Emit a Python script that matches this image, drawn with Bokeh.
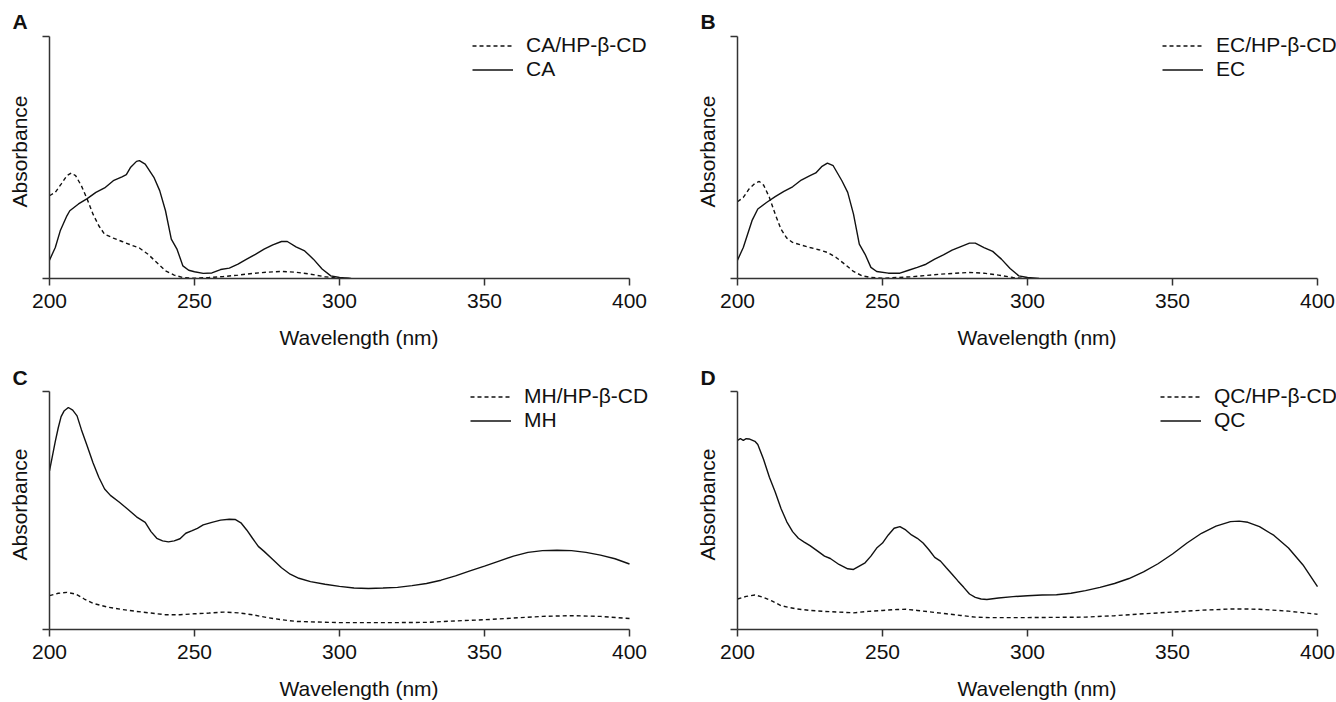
from bokeh.plotting import figure
from bokeh.layouts import column, row
from bokeh.models import Range1d, FixedTicker, Legend, LegendItem
from bokeh.embed import file_html
from bokeh.resources import INLINE

# ---------------- data (relative absorbance, 0 = baseline, 1 = top of axis) ----------------
wl_ca = [200, 202, 203.7, 206, 207, 210, 213, 216, 219, 222, 225, 226.5, 228, 230, 231, 233, 236, 238,
         240, 242, 244, 246, 248, 250, 253, 256, 259, 262, 265, 268, 271, 274, 277, 280, 282, 285, 288,
         291, 294, 297, 300, 304]
abs_ca = [0.076, 0.128, 0.197, 0.259, 0.28, 0.308, 0.33, 0.356, 0.374, 0.404, 0.42, 0.429, 0.46, 0.484,
          0.487, 0.473, 0.418, 0.363, 0.28, 0.163, 0.12, 0.052, 0.034, 0.028, 0.021, 0.023, 0.037, 0.043,
          0.059, 0.08, 0.10, 0.121, 0.139, 0.153, 0.153, 0.131, 0.114, 0.08, 0.039, 0.011, 0.004, 0.0]
wl_ca_cd = [200, 202, 204, 206, 207.5, 209, 211, 213, 215, 217, 219, 222, 225, 228, 231, 234, 237, 240,
            243, 246, 250, 255, 260, 265, 270, 275, 280, 285, 290, 295, 300, 304]
abs_ca_cd = [0.342, 0.356, 0.39, 0.425, 0.436, 0.425, 0.383, 0.328, 0.266, 0.218, 0.183, 0.167, 0.153,
             0.139, 0.126, 0.10, 0.066, 0.032, 0.014, 0.004, 0.001, 0.004, 0.008, 0.014, 0.021, 0.026,
             0.029, 0.026, 0.018, 0.007, 0.001, 0.0]

wl_ec = [200, 202, 205, 207, 210, 213, 216, 219, 222, 225, 227, 229, 231, 233, 236, 238, 240, 242, 244,
         246, 248, 252, 256, 259, 262, 265, 268, 271, 274, 277, 280, 282, 285, 288, 291, 294, 297, 300, 304]
abs_ec = [0.076, 0.128, 0.239, 0.287, 0.314, 0.338, 0.36, 0.379, 0.407, 0.425, 0.436, 0.462, 0.477, 0.466,
          0.404, 0.356, 0.266, 0.142, 0.10, 0.046, 0.029, 0.022, 0.022, 0.034, 0.046, 0.059, 0.08, 0.098,
          0.117, 0.132, 0.146, 0.146, 0.128, 0.112, 0.08, 0.041, 0.011, 0.004, 0.0]
wl_ec_cd = [200, 202, 204, 206, 207.5, 209, 211, 213, 215, 217, 219, 222, 225, 228, 231, 234, 237, 240,
            243, 246, 250, 260, 270, 280, 285, 290, 295, 300]
abs_ec_cd = [0.317, 0.335, 0.37, 0.393, 0.401, 0.386, 0.335, 0.266, 0.204, 0.167, 0.149, 0.138, 0.128,
             0.119, 0.108, 0.087, 0.059, 0.029, 0.011, 0.004, 0.001, 0.007, 0.018, 0.025, 0.022, 0.014,
             0.004, 0.0]

wl_mh = [200, 201, 202, 203, 204, 205, 206.5, 208, 209.5, 211, 213, 215, 217, 219, 221, 224, 227, 230,
         233, 235, 237, 239, 241, 243, 245, 247, 249, 251, 253, 256, 259, 262, 264, 266, 268, 270, 272,
         274, 277, 280, 283, 286, 290, 295, 300, 305, 310, 315, 320, 325, 330, 335, 340, 345, 350, 355,
         360, 365, 370, 375, 380, 385, 390, 395, 400]
abs_mh = [0.666, 0.728, 0.79, 0.846, 0.894, 0.917, 0.932, 0.921, 0.897, 0.839, 0.77, 0.70, 0.639, 0.59,
          0.563, 0.535, 0.505, 0.473, 0.45, 0.411, 0.383, 0.372, 0.368, 0.372, 0.381, 0.404, 0.414, 0.425,
          0.439, 0.45, 0.459, 0.463, 0.462, 0.448, 0.418, 0.383, 0.349, 0.328, 0.294, 0.259, 0.232, 0.215,
          0.201, 0.19, 0.181, 0.174, 0.172, 0.174, 0.177, 0.184, 0.193, 0.207, 0.225, 0.246, 0.266, 0.287,
          0.308, 0.324, 0.331, 0.333, 0.331, 0.324, 0.312, 0.297, 0.275]
wl_mh_cd = [200, 203, 206, 209, 212, 215, 220, 225, 230, 235, 240, 245, 250, 255, 260, 265, 270, 275,
            280, 285, 290, 300, 310, 320, 330, 340, 350, 360, 370, 380, 390, 400]
abs_mh_cd = [0.142, 0.152, 0.156, 0.149, 0.128, 0.11, 0.094, 0.084, 0.076, 0.069, 0.062, 0.062, 0.066,
             0.069, 0.073, 0.07, 0.062, 0.05, 0.041, 0.034, 0.032, 0.029, 0.029, 0.029, 0.03, 0.036,
             0.041, 0.048, 0.055, 0.058, 0.055, 0.046]

wl_qc = [200, 201, 202, 203, 204, 206, 207, 209, 211, 213, 215, 217, 219, 221, 223, 225, 228, 230, 232,
         235, 238, 240, 242, 244, 246, 248, 250, 252, 254, 256, 258, 260, 262, 264, 266, 268, 270, 272,
         274, 276, 278, 280, 282, 284, 286, 290, 295, 300, 305, 310, 315, 320, 325, 330, 335, 340, 345,
         350, 355, 360, 365, 370, 373, 376, 380, 385, 390, 395, 400]
abs_qc = [0.794, 0.801, 0.794, 0.801, 0.80, 0.79, 0.777, 0.714, 0.639, 0.577, 0.508, 0.452, 0.411,
          0.383, 0.367, 0.352, 0.326, 0.308, 0.298, 0.273, 0.255, 0.252, 0.266, 0.28, 0.308, 0.342, 0.363,
          0.397, 0.425, 0.432, 0.418, 0.397, 0.383, 0.363, 0.335, 0.303, 0.287, 0.259, 0.232, 0.204, 0.177,
          0.149, 0.135, 0.128, 0.126, 0.132, 0.138, 0.142, 0.145, 0.146, 0.152, 0.163, 0.177, 0.193, 0.214,
          0.242, 0.276, 0.317, 0.363, 0.404, 0.434, 0.453, 0.455, 0.45, 0.432, 0.395, 0.342, 0.271, 0.18]
wl_qc_cd = [200, 203, 206, 209, 212, 215, 220, 225, 230, 235, 240, 245, 250, 255, 258, 262, 267, 272,
            277, 282, 287, 300, 310, 320, 330, 340, 350, 360, 370, 375, 380, 390, 400]
abs_qc_cd = [0.128, 0.139, 0.145, 0.135, 0.119, 0.10, 0.087, 0.08, 0.076, 0.073, 0.07, 0.076, 0.08,
             0.084, 0.085, 0.08, 0.073, 0.066, 0.059, 0.052, 0.05, 0.05, 0.051, 0.052, 0.058, 0.066,
             0.073, 0.081, 0.086, 0.086, 0.085, 0.077, 0.064]

x_ticks = [200, 250, 300, 350, 400]
FONT = "Liberation Sans"
INK = "#111111"
AX = "#333333"
PX_PER_NM = 2.9      # horizontal scale shared by the four panels
AXIS_PX = 242        # height of the drawn y axis (0..1)
HEADROOM = 12        # extra frame height above the axis top, so the legend stays inside the frame
W, H = 668, 351


def panel(letter, name, wl_cd, ab_cd, wl_p, ab_p, left, top, bottom, leg_x, title_shift):
    frame_w = W - left
    x_end = 200 + frame_w / PX_PER_NM            # room on the right for the legend text
    y_end = 1 + HEADROOM / AXIS_PX
    p = figure(width=W, height=H, x_range=Range1d(200, x_end), y_range=Range1d(0, y_end),
               output_backend="svg", toolbar_location=None, title=letter,
               min_border_left=left, min_border_right=0,
               min_border_top=top - HEADROOM, min_border_bottom=bottom)
    p.outline_line_color = None
    p.grid.visible = False
    p.background_fill_color = "white"
    p.border_fill_color = "white"

    p.title.align = "left"
    p.title.offset = -37
    p.title.text_font = FONT
    p.title.text_font_size = "21px"
    p.title.text_font_style = "bold"
    p.title.text_color = INK
    p.title.standoff = -HEADROOM + title_shift

    xa = p.xaxis[0]
    xa.bounds = (200, 400)
    xa.ticker = FixedTicker(ticks=x_ticks)
    xa.minor_tick_line_color = None
    xa.major_tick_in = 0
    xa.major_tick_out = 7
    xa.major_label_standoff = 8
    xa.major_label_text_font = FONT
    xa.major_label_text_font_size = "21px"
    xa.major_label_text_color = INK
    xa.axis_label = "Wavelength (nm)"
    xa.axis_label_text_font = FONT
    xa.axis_label_text_font_size = "21px"
    xa.axis_label_text_font_style = "normal"
    xa.axis_label_text_color = INK
    xa.axis_label_standoff = 15
    xa.axis_line_width = 1.5
    xa.major_tick_line_width = 1.5
    xa.axis_line_color = AX
    xa.major_tick_line_color = AX

    ya = p.yaxis[0]
    ya.bounds = (0, 1)
    ya.ticker = FixedTicker(ticks=[0, 1])
    ya.minor_tick_line_color = None
    ya.major_tick_in = 0
    ya.major_tick_out = 7
    ya.major_label_overrides = {0: "", 1: ""}
    ya.major_label_standoff = 0
    ya.axis_label = "Absorbance"
    ya.axis_label_text_font = FONT
    ya.axis_label_text_font_size = "21px"
    ya.axis_label_text_font_style = "normal"
    ya.axis_label_text_color = INK
    ya.axis_label_standoff = 12
    ya.axis_line_width = 1.5
    ya.major_tick_line_width = 1.5
    ya.axis_line_color = AX
    ya.major_tick_line_color = AX

    r_cd = p.line(wl_cd, ab_cd, line_color=INK, line_width=1.4, line_dash="4 3")
    r_p = p.line(wl_p, ab_p, line_color=INK, line_width=1.4)

    leg = Legend(items=[LegendItem(label=name + "/HP-\u03b2-CD", renderers=[r_cd]),
                        LegendItem(label=name, renderers=[r_p])],
                 location=(leg_x, 197), orientation="vertical")
    leg.padding = 0
    leg.margin = 0
    leg.spacing = 0
    leg.border_line_color = None
    leg.background_fill_alpha = 0
    leg.glyph_width = 41
    leg.glyph_height = 23
    leg.label_height = 23
    leg.label_standoff = 13
    leg.label_text_font = FONT
    leg.label_text_font_size = "21px"
    leg.label_text_color = INK
    p.add_layout(leg, "center")
    return p


pa = panel("A", "CA", wl_ca_cd, abs_ca_cd, wl_ca, abs_ca, 49, 36, 73, 423, -5)
pb = panel("B", "EC", wl_ec_cd, abs_ec_cd, wl_ec, abs_ec, 69, 36, 73, 425, -5)
pc = panel("C", "MH", wl_mh_cd, abs_mh_cd, wl_mh, abs_mh, 49, 40, 69, 421, -7)
pd = panel("D", "QC", wl_qc_cd, abs_qc_cd, wl_qc, abs_qc, 69, 40, 69, 423, -7)

layout = column(row(pa, pb), row(pc, pd))
open("out.html", "w").write(file_html(layout, INLINE))
